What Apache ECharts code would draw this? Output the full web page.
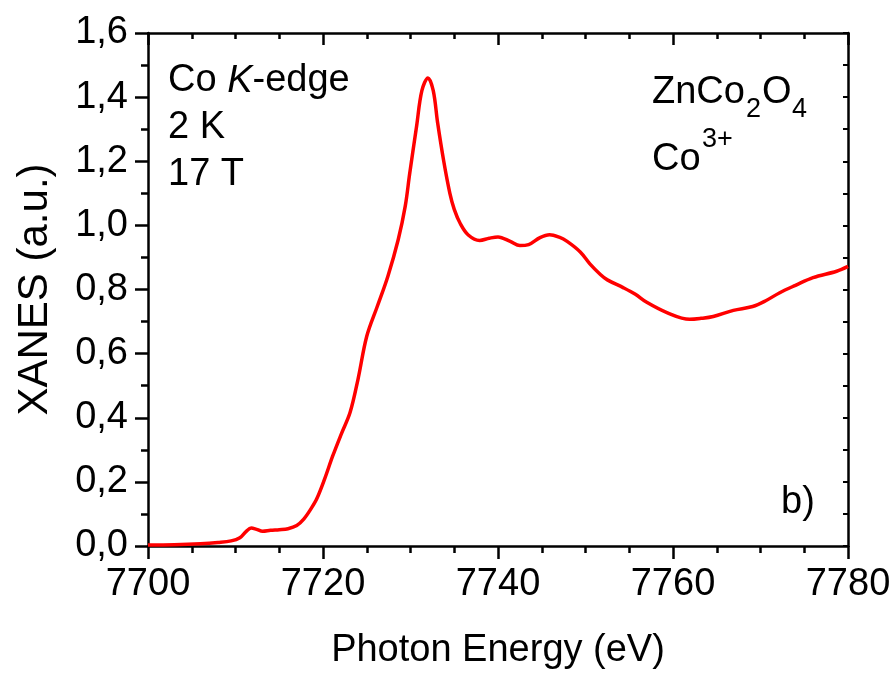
<!DOCTYPE html>
<html>
<head>
<meta charset="utf-8">
<title>Co K-edge XANES of ZnCo2O4</title>
<script src="https://cdn.jsdelivr.net/npm/echarts@6/dist/echarts.min.js"></script>
<style>
  html, body { margin: 0; padding: 0; background: #ffffff; }
  #chart { width: 895px; height: 675px; }
</style>
</head>
<body>
<div id="chart"></div>
<script>
// Co K-edge XANES spectrum, 2 K, 17 T
const energy = [
  7700, 7703, 7706, 7708, 7709.5, 7710.5, 7711.2, 7711.8, 7712.4, 7713.1,
  7714, 7715, 7716, 7717, 7717.8, 7718.6, 7719.3, 7720.2, 7721.1, 7722.1,
  7723.1, 7724, 7725, 7726.2, 7727.4, 7728.6, 7729.4, 7729.9, 7730.7, 7731.3,
  7732.0, 7732.6, 7733.1, 7733.8, 7734.5, 7735.0, 7735.7, 7736.6, 7737.9, 7739,
  7740.0, 7741.4, 7742.5, 7743.5, 7744.8, 7745.9, 7747, 7747.9, 7749.4, 7750.5,
  7751.7, 7752.5, 7754.3, 7755.7, 7757.0, 7759.3, 7761.9, 7763.2, 7764.6, 7766.9,
  7769.1, 7770.6, 7772.2, 7774, 7776.0, 7778.7, 7780
];
const xanes = [
  0.003, 0.004, 0.007, 0.011, 0.016, 0.026, 0.045, 0.056, 0.052, 0.046,
  0.049, 0.051, 0.054, 0.064, 0.084, 0.115, 0.148, 0.21, 0.28, 0.35,
  0.417, 0.52, 0.654, 0.747, 0.84, 0.956, 1.06, 1.16, 1.31, 1.42,
  1.46, 1.42, 1.32, 1.20, 1.10, 1.05, 1.005, 0.97, 0.953, 0.96,
  0.964, 0.95, 0.937, 0.94, 0.962, 0.971, 0.963, 0.95, 0.917, 0.88,
  0.847, 0.83, 0.806, 0.785, 0.76, 0.728, 0.707, 0.71, 0.716, 0.735,
  0.747, 0.765, 0.79, 0.813, 0.837, 0.857, 0.872
];

const xMin = 7700, xMax = 7780, xStep = 20;
const yMin = 0, yMax = 1.6, yStep = 0.2;

const FONT = '"Liberation Sans", Arial, Helvetica, sans-serif';
const INK = '#000000';
const BIG = 38;   // main text size
const SMALL = 27; // sub/superscript size

const chart = echarts.init(document.getElementById('chart'), null, { renderer: 'canvas' });

const commaFmt = v => v.toFixed(1).replace('.', ',');
const plainFmt = v => String(Math.round(v));

const baseAxisLine = { show: true, onZero: false, lineStyle: { color: INK, width: 2.5 } };

const option = {
  backgroundColor: '#ffffff',
  animation: false,
  grid: { left: 148, right: 47, top: 33, bottom: 128, containLabel: false },
  xAxis: [
    {
      type: 'value', position: 'bottom', min: xMin, max: xMax, interval: xStep,
      axisLine: baseAxisLine,
      axisTick: { show: true, inside: false, length: 13, lineStyle: { color: INK, width: 2.5 } },
      minorTick: { show: true, splitNumber: 4, length: 7, lineStyle: { color: INK, width: 2.5 } },
      splitLine: { show: false },
      axisLabel: { color: INK, fontFamily: FONT, fontSize: BIG, margin: 20, formatter: plainFmt },
      name: 'Photon Energy (eV)', nameLocation: 'middle', nameGap: 86,
      nameTextStyle: { color: INK, fontFamily: FONT, fontSize: BIG }
    },
    {
      type: 'value', position: 'top', min: xMin, max: xMax, interval: xStep,
      axisLine: baseAxisLine,
      axisTick: { show: true, inside: true, length: 12, lineStyle: { color: INK, width: 2.5 } },
      minorTick: { show: true, splitNumber: 4, length: 6, lineStyle: { color: INK, width: 2.5 } },
      splitLine: { show: false },
      axisLabel: { show: false }
    }
  ],
  yAxis: [
    {
      type: 'value', position: 'left', min: yMin, max: yMax, interval: yStep,
      axisLine: baseAxisLine,
      axisTick: { show: true, inside: false, length: 13, lineStyle: { color: INK, width: 2.5 } },
      minorTick: { show: true, splitNumber: 2, length: 7, lineStyle: { color: INK, width: 2.5 } },
      splitLine: { show: false },
      axisLabel: { color: INK, fontFamily: FONT, fontSize: BIG, margin: 20, formatter: commaFmt },
      name: 'XANES (a.u.)', nameLocation: 'middle', nameGap: 92, nameRotate: 90,
      nameTextStyle: { color: INK, fontFamily: FONT, fontSize: 42 }
    },
    {
      type: 'value', position: 'right', min: yMin, max: yMax, interval: yStep,
      axisLine: baseAxisLine,
      axisTick: { show: true, inside: true, length: 5, lineStyle: { color: INK, width: 2 } },
      minorTick: { show: true, splitNumber: 2, length: 5, lineStyle: { color: INK, width: 2 } },
      splitLine: { show: false },
      axisLabel: { show: false }
    }
  ],
  series: [
    {
      type: 'line',
      xAxisIndex: 0, yAxisIndex: 0,
      data: energy.map((e, i) => [e, xanes[i]]),
      showSymbol: false,
      smooth: 0.35,
      clip: true,
      lineStyle: { color: '#ff0000', width: 3.5 },
      z: 3
    }
  ],
  graphic: [
    {
      type: 'text', left: 168, top: 62, z: 10,
      style: {
        text: '{n|Co }{i|K}{n|-edge}',
        rich: {
          n: { fontFamily: FONT, fontSize: BIG, fill: INK },
          i: { fontFamily: FONT, fontSize: BIG, fontStyle: 'italic', fill: INK }
        }
      }
    },
    { type: 'text', left: 168, top: 109, z: 10, style: { text: '2 K', font: BIG + 'px ' + FONT, fill: INK } },
    { type: 'text', left: 168, top: 156, z: 10, style: { text: '17 T', font: BIG + 'px ' + FONT, fill: INK } },

    // ZnCo2O4 with subscripts
    { type: 'text', left: 652, top: 74, z: 10, style: { text: 'ZnCo', font: BIG + 'px ' + FONT, fill: INK } },
    { type: 'text', left: 746, top: 96, z: 10, style: { text: '2', font: SMALL + 'px ' + FONT, fill: INK } },
    { type: 'text', left: 762, top: 74, z: 10, style: { text: 'O', font: BIG + 'px ' + FONT, fill: INK } },
    { type: 'text', left: 792, top: 96, z: 10, style: { text: '4', font: SMALL + 'px ' + FONT, fill: INK } },

    // Co3+ with superscript
    { type: 'text', left: 652, top: 141, z: 10, style: { text: 'Co', font: BIG + 'px ' + FONT, fill: INK } },
    { type: 'text', left: 702, top: 126, z: 10, style: { text: '3+', font: SMALL + 'px ' + FONT, fill: INK } },

    { type: 'text', left: 781, top: 484, z: 10, style: { text: 'b)', font: BIG + 'px ' + FONT, fill: INK } }
  ]
};

chart.setOption(option);
</script>
</body>
</html>
